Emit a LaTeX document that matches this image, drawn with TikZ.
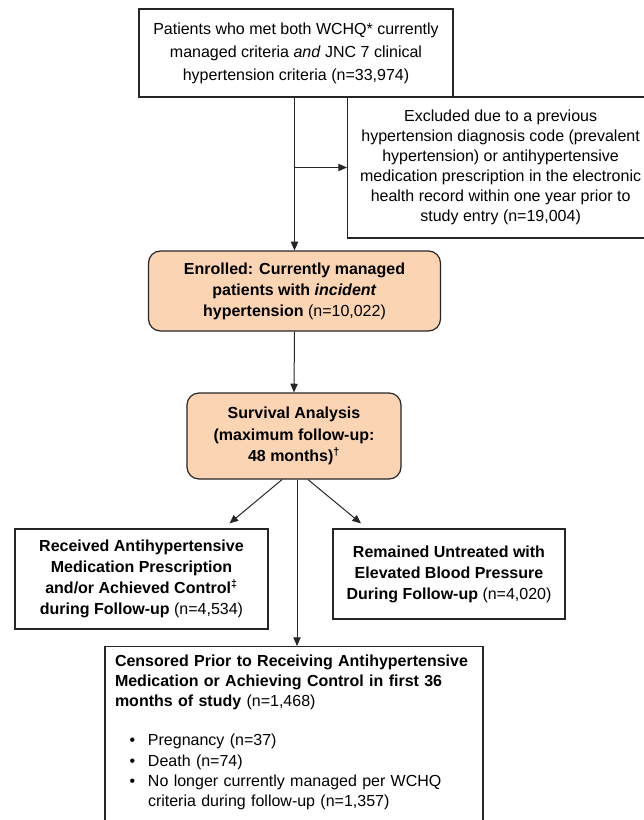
\documentclass[tikz,border=0pt]{standalone}
\usepackage{fontspec}
\setmainfont{Liberation Sans}
\usepackage{xcolor}
\usepackage{tikz}
\usetikzlibrary{arrows.meta}

\definecolor{peach}{RGB}{251,212,180}

\begin{document}
\begin{tikzpicture}[x=0.75pt,y=-0.75pt,
    box/.style={draw=black!85,line width=0.9pt,align=center,inner sep=2pt,
      font=\fontsize{12}{15.75}\selectfont},
    roundbox/.style={box,fill=peach,rounded corners=9pt},
    arr/.style={-{Triangle[length=6.5pt,width=5.5pt]},line width=0.75pt,color=black!85}]
       \useasboundingbox (0,0) rectangle (643,820);

       \node[box,minimum width=235.5pt,minimum height=66pt,
         font=\fontsize{12}{17.25}\selectfont] (top) at (296,53)
         {Patients who met both WCHQ* currently\\ managed criteria \textit{and} JNC 7 clinical\\ hypertension criteria (n=33,974)};
       \node[box,minimum width=229.5pt,minimum height=105.75pt,anchor=west,
         font=\fontsize{12}{15}\selectfont] (excl) at (347,167.5)
         {Excluded due to a previous\\ hypertension diagnosis code (prevalent\\ hypertension) or antihypertensive\\ medication prescription in the electronic\\ health record within one year prior to\\ study entry (n=19,004)};
       \node[roundbox,minimum width=219pt,minimum height=60pt] (enr) at (294.5,291)
         {\textbf{Enrolled: Currently managed}\\ \textbf{patients with \textit{incident}}\\ \textbf{hypertension} (n=10,022)};
       \node[roundbox,minimum width=160.5pt,minimum height=64.5pt,
         font=\fontsize{12}{16}\selectfont\bfseries] (surv) at (294,436)
         {Survival Analysis\\ (maximum follow-up:\\ 48 months)\textsuperscript{†}};
       \node[box,minimum width=189.75pt,minimum height=75pt] (recv) at (141.5,579)
         {\textbf{Received Antihypertensive}\\ \textbf{Medication Prescription}\\ \textbf{and/or Achieved Control\textsuperscript{‡}}\\ \textbf{during Follow-up} (n=4,534)};
       \node[box,minimum width=174pt,minimum height=67.5pt] (untr) at (449,574)
         {\textbf{Remained Untreated with}\\ \textbf{Elevated Blood Pressure}\\ \textbf{During Follow-up} (n=4,020)};
       \node[box,anchor=north,align=left,text width=268.5pt,inner xsep=7.5pt,inner ysep=6pt,
         font=\fontsize{12}{15.25}\selectfont] (cens) at (294,646)
         {\textbf{Censored Prior to Receiving Antihypertensive}\\
          \textbf{Medication or Achieving Control in first 36}\\
          \textbf{months of study} (n=1,468)\\[14pt]
          \makebox[24.75pt][l]{\hspace*{11pt}\textbullet}Pregnancy (n=37)\\
          \makebox[24.75pt][l]{\hspace*{11pt}\textbullet}Death (n=74)\\
          \makebox[24.75pt][l]{\hspace*{11pt}\textbullet}No longer currently managed per WCHQ\\
          \hspace*{24.75pt}criteria during follow-up (n=1,357)\rule[-20pt]{0pt}{0pt}};

       \coordinate (split) at (enr.north |- excl.west);

       \path[arr]
       (enr.north |- top.south) edge (enr.north)
       (split) edge (excl.west)
       (enr.south) edge (surv.north)
       ([xshift=-9pt]surv.south) edge ([shift={(88,-5)}]recv.north)
       ([xshift=10.5pt]surv.south) edge ([shift={(-88,-5)}]untr.north)
       ([xshift=2.25pt]surv.south) edge ([xshift=2.25pt]cens.north);
    \end{tikzpicture}
\end{document}
